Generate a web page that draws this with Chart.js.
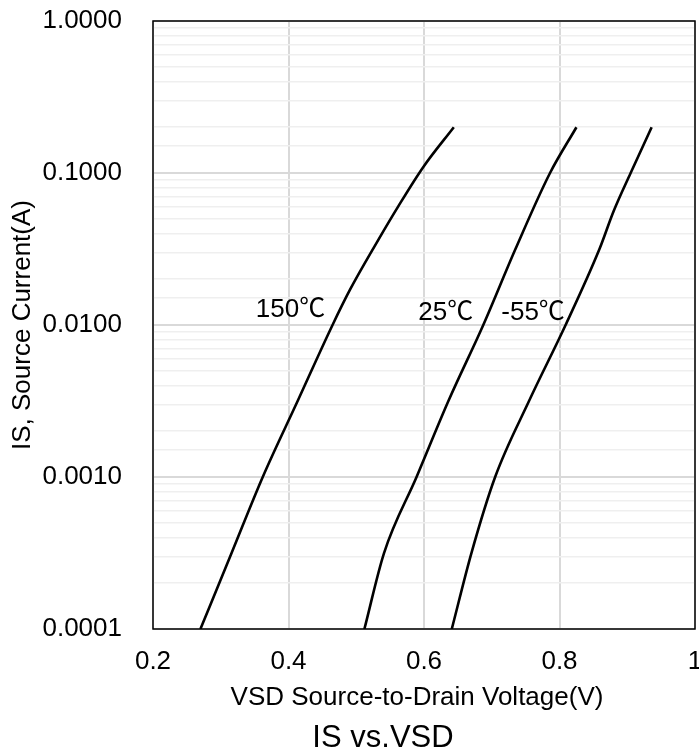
<!DOCTYPE html>
<html>
<head>
<meta charset="utf-8">
<title>IS vs.VSD</title>
<script src="https://cdn.jsdelivr.net/npm/chart.js@4.4.1/dist/chart.umd.min.js"></script>
<style>
  html, body { margin: 0; padding: 0; background: #fff; }
  canvas { display: block; }
</style>
</head>
<body>
<canvas id="isVsdChart" width="699" height="751"></canvas>
<script>
// values (VSD in V, IS in A)
var vsd150 = [0.270, 0.316, 0.362, 0.4135, 0.465, 0.4906, 0.530, 0.562, 0.599, 0.644];
var is150  = [0.0001, 0.000316, 0.001, 0.00316, 0.01, 0.017, 0.0347, 0.0603, 0.1096, 0.200];

var vsd25 = [0.512, 0.541, 0.589, 0.636, 0.6875, 0.735, 0.786, 0.825];
var is25  = [0.0001, 0.000316, 0.001, 0.00316, 0.01, 0.0316, 0.100, 0.200];

var vsdM55 = [0.641, 0.670, 0.705, 0.755, 0.809, 0.859, 0.880, 0.905, 0.936];
var isM55  = [0.0001, 0.000316, 0.001, 0.00316, 0.01, 0.0316, 0.0562, 0.100, 0.200];

var curveLabels = ['150℃', '25℃', '-55℃'];
var curveLabelX = [0.403, 0.632, 0.761];
var curveLabelY = [0.0125, 0.0121, 0.0121];

var xTicks = [0.2, 0.4, 0.6, 0.8, 1];
var xTickLabels = ['0.2', '0.4', '0.6', '0.8', '1'];
var yTicks = [0.0001, 0.001, 0.01, 0.1, 1];
var yTickLabels = ['0.0001', '0.0010', '0.0100', '0.1000', '1.0000'];

var xTitle = 'VSD Source-to-Drain Voltage(V)';
var yTitle = 'IS, Source Current(A)';
var chartTitle = 'IS vs.VSD';

var FONT = "'Liberation Sans', Arial, 'Noto Sans CJK SC', sans-serif";

function toPoints(xs, ys) {
    return xs.map(function (x, i) { return { x: x, y: ys[i] }; });
}

function yTickIndex(value) {
    for (var i = 0; i < yTicks.length; i++) {
        if (Math.abs(Math.log10(yTicks[i]) - Math.log10(value)) < 1e-6) return i;
    }
    return -1;
}

function curve(xs, ys) {
    return {
        data: toPoints(xs, ys),
        showLine: true,
        borderColor: '#000',
        borderWidth: 2.6,
        pointRadius: 0,
        cubicInterpolationMode: 'monotone'
    };
}

// frame, curve labels and the two bottom titles
var annotate = {
    id: 'annotate',
    afterDraw: function (chart) {
        var ctx = chart.ctx;
        var area = chart.chartArea;
        var xs = chart.scales.x, ys = chart.scales.y;
        ctx.save();
        ctx.strokeStyle = '#000';
        ctx.lineWidth = 1.5;
        ctx.strokeRect(area.left, area.top, area.right - area.left, area.bottom - area.top);

        ctx.fillStyle = '#000';
        ctx.textAlign = 'center';
        ctx.textBaseline = 'middle';
        ctx.font = '26px ' + FONT;
        curveLabels.forEach(function (txt, i) {
            ctx.fillText(txt, xs.getPixelForValue(curveLabelX[i]), ys.getPixelForValue(curveLabelY[i]));
        });

        var mid = (area.left + area.right) / 2;
        ctx.fillText(xTitle, mid - 7, area.bottom + 69);
        ctx.font = '31px ' + FONT;
        ctx.fillText(chartTitle, mid - 41, area.bottom + 109);
        ctx.restore();
    }
};

document.addEventListener('DOMContentLoaded', function () {
    var ctx = document.getElementById('isVsdChart').getContext('2d');
    new Chart(ctx, {
        type: 'scatter',
        data: {
            datasets: [curve(vsd150, is150), curve(vsd25, is25), curve(vsdM55, isM55)]
        },
        options: {
            responsive: false,
            animation: false,
            layout: { padding: { top: 21, right: 4, left: 0, bottom: 0 } },
            plugins: {
                legend: { display: false },
                tooltip: { enabled: false }
            },
            scales: {
                x: {
                    type: 'linear',
                    min: 0.2,
                    max: 1,
                    afterBuildTicks: function (scale) {
                        scale.ticks = xTicks.map(function (v) { return { value: v }; });
                    },
                    afterFit: function (scale) {
                        scale.paddingLeft = 0;
                        scale.paddingRight = 0;
                        scale.height = 122;
                    },
                    border: { display: false },
                    grid: { color: '#d9d9d9', lineWidth: 2, drawTicks: false },
                    ticks: {
                        padding: 17,
                        color: '#000',
                        font: { family: FONT, size: 26 },
                        maxRotation: 0,
                        autoSkip: false,
                        callback: function (value, index) { return xTickLabels[index]; }
                    }
                },
                y: {
                    type: 'logarithmic',
                    min: 0.0001,
                    max: 1,
                    afterFit: function (scale) {
                        scale.width = 153;
                        scale.paddingTop = 0;
                        scale.paddingBottom = 0;
                    },
                    border: { display: false },
                    grid: {
                        drawTicks: false,
                        color: function (c) {
                            return c.tick && yTickIndex(c.tick.value) >= 0 ? '#d9d9d9' : '#efefef';
                        },
                        lineWidth: function (c) {
                            return c.tick && yTickIndex(c.tick.value) >= 0 ? 2 : 1.5;
                        }
                    },
                    ticks: {
                        padding: 31,
                        color: '#000',
                        autoSkip: false,
                        font: { family: FONT, size: 26 },
                        callback: function (value) {
                            var i = yTickIndex(value);
                            return i >= 0 ? yTickLabels[i] : '';
                        }
                    },
                    title: {
                        display: true,
                        text: yTitle,
                        color: '#000',
                        font: { family: FONT, size: 26 },
                        padding: { top: 7, bottom: 0 }
                    }
                }
            }
        },
        plugins: [annotate]
    });
});
</script>
</body>
</html>
